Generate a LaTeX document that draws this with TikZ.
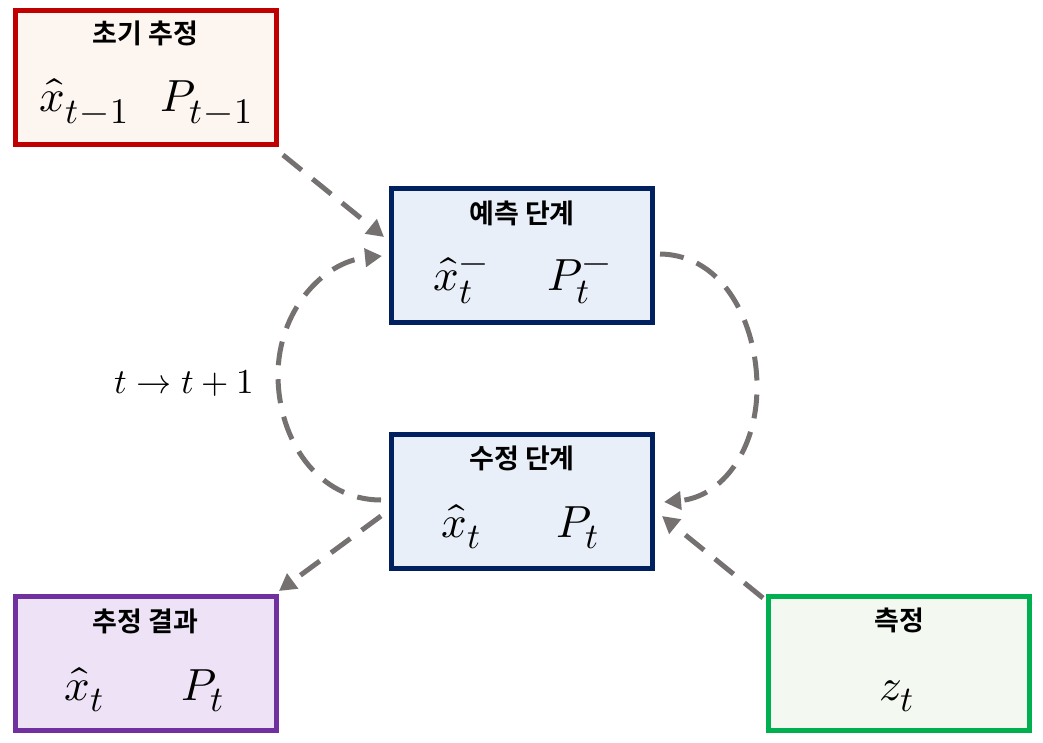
\documentclass[tikz,border=0pt]{standalone}
\usepackage{fontspec}
\usepackage{unicode-math}
\newfontfamily\krb{Noto Sans CJK KR Bold}
\newcommand\bsub[1]{_{\hbox{\fontsize{36}{40}\selectfont$#1$}}}
\newcommand\bsup[1]{^{\hbox{\fontsize{36}{40}\selectfont$#1$}}}
\usetikzlibrary{arrows.meta}
\definecolor{redb}{HTML}{C00000}
\definecolor{redf}{HTML}{FDF5F0}
\definecolor{blueb}{HTML}{002060}
\definecolor{bluef}{HTML}{E8EFF8}
\definecolor{purpb}{HTML}{7030A0}
\definecolor{purpf}{HTML}{EEE3F6}
\definecolor{greenb}{HTML}{00B050}
\definecolor{greenf}{HTML}{F3F9F1}
\definecolor{arrowgray}{HTML}{767171}
\begin{document}
\begin{tikzpicture}[x=1pt,y=-1pt,
  box/.style={draw, line width=5pt, minimum width=261pt, minimum height=134pt, inner sep=0pt},
  ttl/.style={font=\krb\fontsize{27}{29}\selectfont, anchor=center, inner sep=0pt},
  mth/.style={font=\fontsize{45}{50}\selectfont, anchor=base, inner sep=0pt},
  flow/.style={draw=arrowgray, line width=5pt, dash pattern=on 24pt off 14pt, -{Triangle[length=17pt,width=18pt]}}]
\useasboundingbox (0,0) rectangle (1043,743);

% boxes
\node[box, draw=redb, fill=redf] (init) at (145.5,77.5) {};
\node[box, draw=blueb, fill=bluef] (pred) at (522,255.5) {};
\node[box, draw=blueb, fill=bluef] (corr) at (522,501.5) {};
\node[box, draw=purpb, fill=purpf] (res) at (145.5,663.5) {};
\node[box, draw=greenb, fill=greenf] (meas) at (899,663.5) {};

% titles
\node[ttl] (initT) at (145.5,33) {초기 추정};
\node[ttl] (predT) at (522,213) {예측 단계};
\node[ttl] (corrT) at (522,458) {수정 단계};
\node[ttl] (resT) at (145.5,621) {추정 결과};
\node[ttl] (measT) at (899,620) {측정};

% math
\node[mth] (initX) at (84,112) {$\widehat{x}\bsub{t\!-\!1}$};
\node[mth] (initP) at (207,112) {$P\bsub{t\!-\!1}$};
\node[mth] (predX) at (461,290) {$\widehat{x}\bsub{t}\bsup{-}$};
\node[mth] (predP) at (579,290) {$P\bsub{t}\bsup{-}$};
\node[mth] (corrX) at (461,537) {$\widehat{x}\bsub{t}$};
\node[mth] (corrP) at (578,537) {$P\bsub{t}$};
\node[mth] (resX) at (84,700) {$\widehat{x}\bsub{t}$};
\node[mth] (resP) at (203,700) {$P\bsub{t}$};
\node[mth] (measZ) at (897,700) {$z\bsub{t}$};

\node[font=\fontsize{35}{40}\selectfont, anchor=base, inner sep=0pt] (step) at (184,393) {$t \rightarrow t+1$};

% connector endpoints
\coordinate (a1s) at (283,155);
\coordinate (a1e) at (384,237);
\coordinate (r1s) at (660,254);
\coordinate (r1e) at (664,502);
\coordinate (l1s) at (381,500);
\coordinate (l1e) at (382,256);
\coordinate (d1s) at (381,516);
\coordinate (d1e) at (279,591);
\coordinate (g1s) at (763,598);
\coordinate (g1e) at (662,516);

\draw[flow] (a1s) -- (a1e);
\draw[flow] (r1s) .. controls (725,255) and (757,325) .. (757,387)
  .. controls (757,450) and (722,497) .. (r1e);
\draw[flow] (l1s) .. controls (318,500) and (278,440) .. (278,375)
  .. controls (278,312) and (322,262) .. (l1e);
\draw[flow] (d1s) -- (d1e);
\draw[flow] (g1s) -- (g1e);
\end{tikzpicture}
\end{document}
